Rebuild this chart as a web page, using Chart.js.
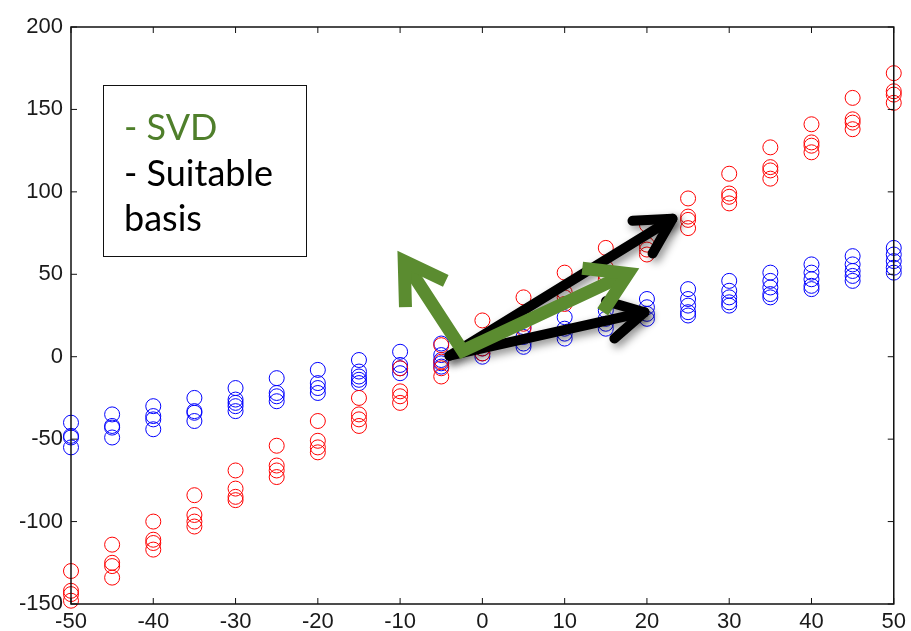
<!DOCTYPE html>
<html>
<head>
<meta charset="utf-8">
<script src="https://cdn.jsdelivr.net/npm/chart.js@4"></script>
<style>
  body { margin: 0; background: #fff; }
  canvas { display: block; }
</style>
</head>
<body>
<canvas id="basisChart" width="911" height="631"></canvas>
<script>
// sample positions along x (every 5 units)
const xValues = [-50, -45, -40, -35, -30, -25, -20, -15, -10, -5, 0, 5, 10, 15, 20, 25, 30, 35, 40, 45, 50];

// red cloud (steep), several samples per x
const redY = [
  [-130, -142, -144, -148],
  [-114, -125, -127, -134],
  [-100, -111, -113, -117],
  [-84, -96, -100, -103],
  [-69, -80, -85, -87],
  [-54, -66, -69, -73],
  [-39, -51, -55, -58],
  [-25, -35, -38, -42],
  [-7, -21, -24, -28],
  [7, -3, -7, -12],
  [22, 9, 5, 2],
  [36, 24, 20, 17],
  [51, 39, 36, 32],
  [66, 54, 50, 47],
  [80, 68, 65, 62],
  [96, 85, 83, 78],
  [111, 99, 97, 93],
  [127, 115, 113, 108],
  [141, 130, 128, 124],
  [157, 144, 142, 138],
  [172, 161, 159, 154]
];

// blue cloud (shallow)
const blueY = [
  [-40, -48, -49, -55],
  [-35, -42, -43, -49],
  [-30, -36, -38, -44],
  [-25, -33, -34, -39],
  [-19, -26, -28, -30, -33],
  [-13, -22, -24, -27],
  [-8, -16, -19, -22],
  [-2, -9, -12, -14, -16],
  [3, -5, -7, -10],
  [8, 1, -2, -4, -6],
  [10, 5, 2, 0],
  [18, 12, 8, 6],
  [24, 17, 14, 11],
  [28, 23, 20, 17],
  [35, 30, 26, 23],
  [41, 35, 31, 27, 25],
  [46, 40, 36, 33, 31],
  [51, 46, 42, 38, 36],
  [56, 51, 47, 43, 41],
  [61, 56, 52, 49, 46],
  [66, 62, 58, 54, 51]
];

const xTicks = [-50, -40, -30, -20, -10, 0, 10, 20, 30, 40, 50];
const yTicks = [-150, -100, -50, 0, 50, 100, 150, 200];

const legendLines = ['- SVD', '- Suitable', 'basis'];

// annotation arrows, in data units: [tail, head]
const svdArrows = [[[-2.4, 3.6], [-9.5, 58]], [[-2.4, 3.6], [17.7, 50.5]]];
const basisArrows = [[[-4, 0.6], [23.1, 83.7]], [[-4, 0.6], [19.7, 27]]];

function toPoints(groups) {
  return groups.flatMap((ys, i) => ys.map(v => ({ x: xValues[i], y: v })));
}

function drawHead(ctx, x0, y0, x1, y1, len, spread) {
  const ang = Math.atan2(y1 - y0, x1 - x0);
  ctx.beginPath();
  ctx.moveTo(x1 - len * Math.cos(ang - spread), y1 - len * Math.sin(ang - spread));
  ctx.lineTo(x1, y1);
  ctx.lineTo(x1 - len * Math.cos(ang + spread), y1 - len * Math.sin(ang + spread));
  ctx.stroke();
}

const overlay = {
  id: 'overlay',
  afterDatasetsDraw(chart) {
    const { ctx, chartArea: a, scales: { x, y } } = chart;
    ctx.save();

    // box frame + inward ticks, matlab style
    ctx.strokeStyle = '#111';
    ctx.lineWidth = 1.5;
    ctx.strokeRect(a.left, a.top, a.right - a.left, a.bottom - a.top);
    ctx.lineWidth = 1;
    ctx.beginPath();
    xTicks.forEach(v => {
      const px = x.getPixelForValue(v);
      ctx.moveTo(px, a.bottom); ctx.lineTo(px, a.bottom - 6);
      ctx.moveTo(px, a.top); ctx.lineTo(px, a.top + 6);
    });
    yTicks.forEach(v => {
      const py = y.getPixelForValue(v);
      ctx.moveTo(a.left, py); ctx.lineTo(a.left + 6, py);
      ctx.moveTo(a.right, py); ctx.lineTo(a.right - 6, py);
    });
    ctx.stroke();

    // black "suitable basis" arrows with shadow
    ctx.save();
    ctx.strokeStyle = '#000';
    ctx.lineWidth = 10;
    ctx.lineCap = 'round';
    ctx.lineJoin = 'round';
    ctx.shadowColor = 'rgba(0,0,0,0.45)';
    ctx.shadowBlur = 8;
    ctx.shadowOffsetX = 3;
    ctx.shadowOffsetY = 4;
    basisArrows.forEach(([t, h]) => {
      const x0 = x.getPixelForValue(t[0]), y0 = y.getPixelForValue(t[1]);
      const x1 = x.getPixelForValue(h[0]), y1 = y.getPixelForValue(h[1]);
      ctx.beginPath();
      ctx.moveTo(x0, y0); ctx.lineTo(x1, y1);
      ctx.stroke();
      drawHead(ctx, x0, y0, x1, y1, 40, 0.5);
    });
    ctx.restore();

    // green SVD arrows
    ctx.save();
    ctx.strokeStyle = '#5b8c30';
    ctx.lineWidth = 13;
    ctx.lineCap = 'butt';
    ctx.lineJoin = 'miter';
    const [a1, a2] = svdArrows;
    const vx = x.getPixelForValue(a1[0][0]), vy = y.getPixelForValue(a1[0][1]);
    const t1x = x.getPixelForValue(a1[1][0]), t1y = y.getPixelForValue(a1[1][1]);
    const t2x = x.getPixelForValue(a2[1][0]), t2y = y.getPixelForValue(a2[1][1]);
    ctx.beginPath();
    ctx.moveTo(t1x, t1y); ctx.lineTo(vx, vy); ctx.lineTo(t2x, t2y);
    ctx.stroke();
    drawHead(ctx, vx, vy, t1x, t1y, 46, 0.55);
    drawHead(ctx, vx, vy, t2x, t2y, 46, 0.55);
    ctx.restore();

    // text box
    ctx.fillStyle = '#fff';
    ctx.fillRect(103, 85, 203, 171);
    ctx.strokeStyle = '#111';
    ctx.lineWidth = 1;
    ctx.strokeRect(103.5, 85.5, 203, 171);
    ctx.font = '36px Lato';
    ctx.textBaseline = 'alphabetic';
    ctx.textAlign = 'left';
    legendLines.forEach((txt, i) => {
      ctx.fillStyle = i === 0 ? '#4f7f2b' : '#000';
      ctx.fillText(txt, 124, 140 + i * 45.5);
    });

    ctx.restore();
  }
};

const ctx = document.getElementById('basisChart').getContext('2d');
const basisChart = new Chart(ctx, {
  type: 'scatter',
  data: {
    datasets: [
      {
        label: 'red',
        data: toPoints(redY),
        borderColor: '#ff0000',
        backgroundColor: 'rgba(0,0,0,0)',
        pointRadius: 7.5,
        pointBorderWidth: 1,
        clip: false
      },
      {
        label: 'blue',
        data: toPoints(blueY),
        borderColor: '#0000ff',
        backgroundColor: 'rgba(0,0,0,0)',
        pointRadius: 7.5,
        pointBorderWidth: 1,
        clip: false
      }
    ]
  },
  options: {
    responsive: false,
    animation: false,
    events: [],
    layout: { padding: { top: 27, right: 16, left: 0, bottom: 0 } },
    plugins: { legend: { display: false }, tooltip: { enabled: false } },
    scales: {
      x: {
        type: 'linear',
        min: -50,
        max: 50,
        afterBuildTicks: s => { s.ticks = xTicks.map(v => ({ value: v })); },
        afterFit: s => { s.height = 27; },
        grid: { display: false, drawTicks: false },
        border: { display: false },
        ticks: { padding: 5, color: '#1a1a1a', font: { family: 'Liberation Sans', size: 22 } }
      },
      y: {
        type: 'linear',
        min: -150,
        max: 200,
        afterBuildTicks: s => { s.ticks = yTicks.map(v => ({ value: v })); },
        afterFit: s => { s.width = 71; },
        grid: { display: false, drawTicks: false },
        border: { display: false },
        ticks: { padding: 8, color: '#1a1a1a', font: { family: 'Liberation Sans', size: 22 } }
      }
    }
  },
  plugins: [overlay]
});
</script>
</body>
</html>
